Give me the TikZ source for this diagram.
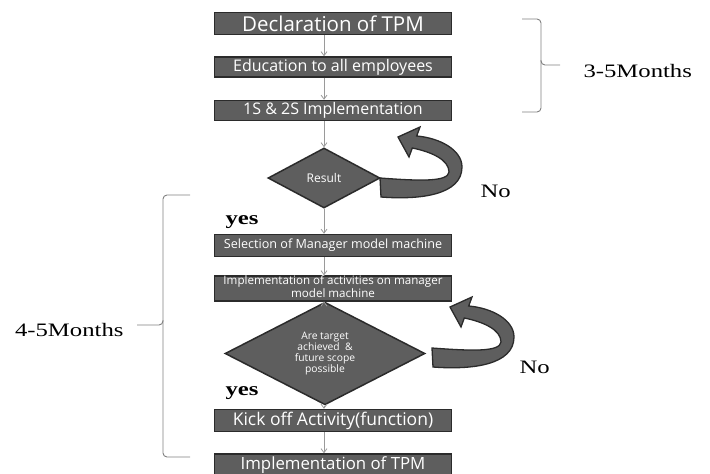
\documentclass[tikz,border=0pt]{standalone}
\usepackage{fontspec}
\setmainfont{Liberation Serif}[FakeStretch=1.3]
\newfontfamily\boxfont{Open Sans}
\usetikzlibrary{arrows.meta,shapes.geometric}

% colours of the chart
\definecolor{boxgray}{HTML}{5E5E5E}
\definecolor{edgegray}{HTML}{2B2B2B}
\definecolor{linegray}{HTML}{9A9A9A}

\tikzset{
  box/.style={draw=edgegray, fill=boxgray, line width=1.5pt, text=white,
    minimum width=237pt, minimum height=22pt, inner sep=0pt,
    font=\boxfont\fontsize{17}{19}\selectfont},
  smallbox/.style={box, align=center, font=\boxfont\fontsize{12.6}{11}\selectfont},
  decision/.style={diamond, draw=edgegray, fill=boxgray, line width=1.5pt,
    text=white, inner sep=0pt, align=center},
  flow/.style={draw=linegray, line width=0.8pt, -{Straight Barb[length=4pt,width=6pt]}},
  brace/.style={draw=black!50, line width=0.9pt, rounded corners=4pt},
  uturn/.style={draw=edgegray, fill=boxgray, line width=1.3pt, line join=miter},
  months/.style={font=\fontsize{19}{22}\selectfont},
  answer/.style={font=\fontsize{19}{22}\selectfont},
}

\begin{document}
\begin{tikzpicture}[x=1pt, y=-1pt]
    \useasboundingbox (0,0) rectangle (710,474);

    % The two bent "No" arrows (same shape, shifted)
    \foreach \dx/\dy in {0/0, 52/170}{
      \begin{scope}[shift={(\dx,\dy)}]
        \path[uturn] (380,178) -- (381,197)
          .. controls (420,200) and (462,195) .. (462,167)
          .. controls (462,150) and (440,138) .. (416.7,136)
          -- (420,127) -- (398,137) -- (409,157) -- (412.3,148)
          .. controls (432,152) and (449,160) .. (449,172)
          .. controls (448,182) and (420,181) .. (380,178) -- cycle;
      \end{scope}
    }

    % Steps of the chart
    \node[box, font=\boxfont\fontsize{20.5}{22}\selectfont] (b1) at (333,23.5) {Declaration of TPM};
    \node[box, minimum height=20pt, font=\boxfont\fontsize{16}{18}\selectfont] (b2) at (333,67) {Education to all employees};
    \node[box, minimum height=20pt, font=\boxfont\fontsize{16}{18}\selectfont] (b3) at (333,110.5) {1S \& 2S Implementation};
    \node[decision, minimum width=112pt, minimum height=60pt,
          font=\boxfont\fontsize{12}{13}\selectfont] (d1) at (324,178) {Result};
    \node[smallbox] (b4) at (333,245.5) {Selection of Manager model machine};
    \node[smallbox, text depth=3.5pt, font=\boxfont\fontsize{11.6}{9.6}\selectfont] (b5) at (333,288.5) {Implementation of activities on manager\\model machine};
    \node[decision, minimum width=200pt, minimum height=67pt,
          font=\boxfont\fontsize{10.3}{10.8}\selectfont] (d2) at (325,353.5)
          {Are target\\achieved \ \&\\future scope\\possible};
    \node[box, font=\boxfont\fontsize{17.5}{19}\selectfont] (b6) at (333,420.5) {Kick off Activity(function)};
    \node[box, font=\boxfont\fontsize{16.8}{19}\selectfont] (b7) at (333,465) {Implementation of TPM};

    % Connectors (all on the axis of the diamonds)
    \draw[flow] (b1.south -| d1.north) -- (b2.north -| d1.north);
    \draw[flow] (b2.south -| d1.north) -- (b3.north -| d1.north);
    \draw[flow] (b3.south -| d1.north) -- (d1.north);
    \draw[flow] (d1.south) -- (b4.north -| d1.south);
    \draw[flow] (b4.south -| d1.north) -- (b5.north -| d1.north);
    \draw[flow] (b5.south -| d1.north) -- (d2.north -| d1.north);
    \draw[flow] (d2.south -| d1.north) -- (b6.north -| d1.north);
    \draw[flow] (b6.south -| d1.north) -- (b7.north -| d1.north);

    % Answers
    \node[answer, font=\bfseries\fontsize{19}{22}\selectfont, anchor=base west] (y1) at (222,224) {yes};
    \node[answer, font=\bfseries\fontsize{19}{22}\selectfont, anchor=base west] (y2) at (222,395) {yes};
    \node[answer, anchor=base west] (n1) at (477,197) {No};
    \node[answer, anchor=base west] (n2) at (516,373) {No};

    % Time spans
    \draw[brace] (522,19) -- (541,19) -- (541,65) -- (560,65);
    \draw[brace] (541,60) -- (541,112) -- (522,112);
    \node[months, anchor=base west] (t1) at (580,77) {3-5Months};

    \draw[brace] (190,195) -- (163,195) -- (163,325) -- (137,325);
    \draw[brace] (163,320) -- (163,457) -- (190,457);
    \node[months, anchor=base east] (t2) at (127,336) {4-5Months};
\end{tikzpicture}
\end{document}
